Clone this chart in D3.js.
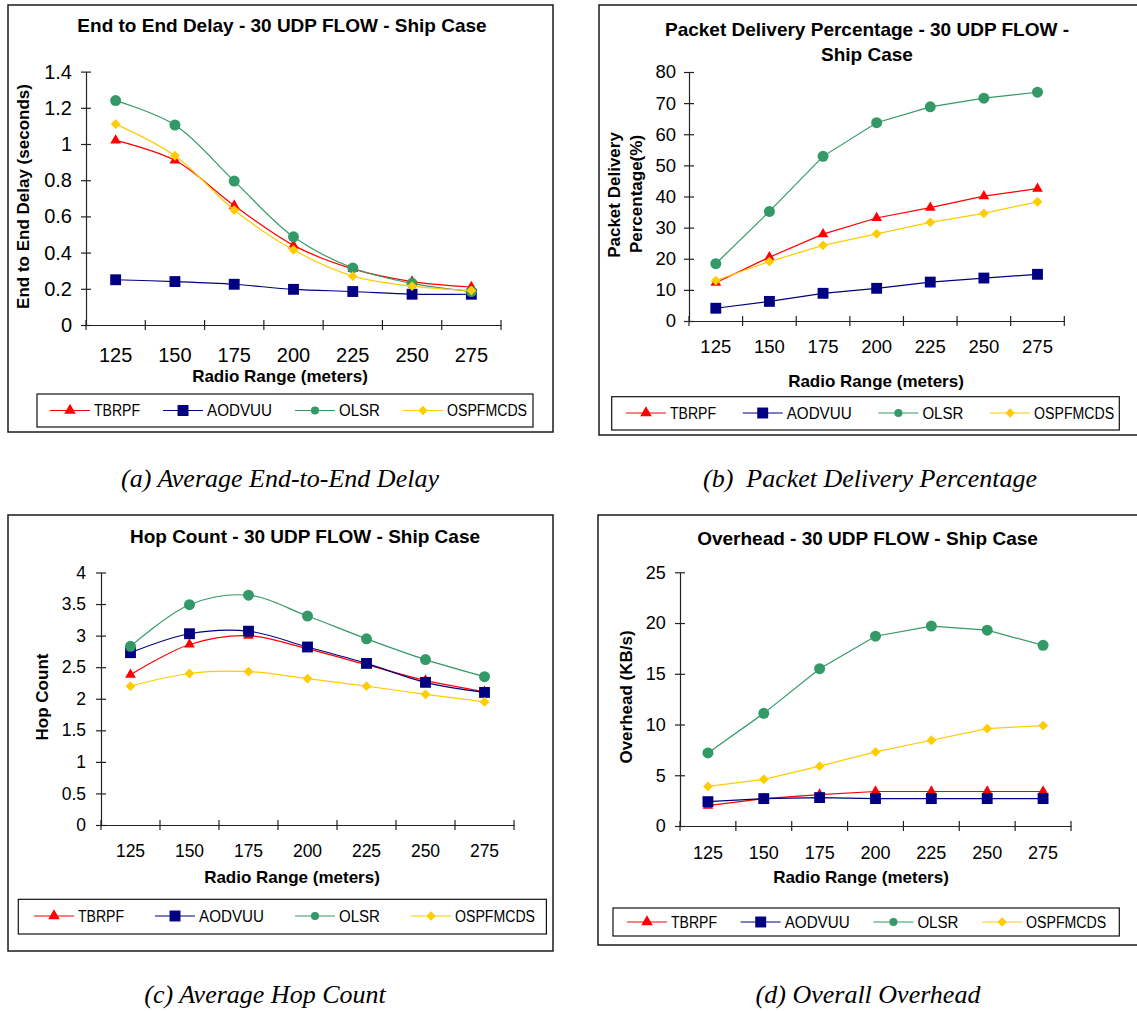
<!DOCTYPE html>
<html>
<head>
<meta charset="utf-8">
<script src="https://cdn.jsdelivr.net/npm/d3@7"></script>
<style>
  body { margin: 0; background: #fff; }
  svg text { font-family: "Liberation Sans", Arial, sans-serif; fill: #000; }
  .caption { font-family: "Liberation Serif", "Times New Roman", serif; font-style: italic; white-space: pre; }
</style>
</head>
<body>
<svg id="fig" width="1137" height="1011"></svg>
<script>
const categories = ["125", "150", "175", "200", "225", "250", "275"]
const protocols = ["TBRPF", "AODVUU", "OLSR", "OSPFMCDS"]

// (a) end to end delay, seconds
const delayTBRPF = [1.02, 0.91, 0.66, 0.44, 0.31, 0.24, 0.21]
const delayAODVUU = [0.25, 0.24, 0.225, 0.197, 0.185, 0.17, 0.17]
const delayOLSR = [1.24, 1.105, 0.795, 0.487, 0.315, 0.23, 0.185]
const delayOSPFMCDS = [1.11, 0.935, 0.635, 0.415, 0.27, 0.215, 0.19]
const delayTicks = [0, 0.2, 0.4, 0.6, 0.8, 1, 1.2, 1.4]

// (b) packet delivery, %
const pdrTBRPF = [12.3, 20.5, 27.9, 33.1, 36.4, 40.1, 42.5]
const pdrAODVUU = [4.1, 6.3, 8.9, 10.5, 12.5, 13.8, 15.0]
const pdrOLSR = [18.4, 35.2, 52.9, 63.7, 68.8, 71.6, 73.5]
const pdrOSPFMCDS = [13.0, 19.1, 24.3, 28.0, 31.7, 34.6, 38.3]
const pdrTicks = [0, 10, 20, 30, 40, 50, 60, 70, 80]

// (c) hop count
const hopTBRPF = [2.38, 2.86, 3.0, 2.79, 2.54, 2.29, 2.11]
const hopAODVUU = [2.73, 3.03, 3.07, 2.82, 2.56, 2.26, 2.1]
const hopOLSR = [2.83, 3.49, 3.64, 3.31, 2.95, 2.62, 2.35]
const hopOSPFMCDS = [2.2, 2.4, 2.43, 2.32, 2.2, 2.07, 1.95]
const hopTicks = [0, 0.5, 1, 1.5, 2, 2.5, 3, 3.5, 4]

// (d) overhead, KB/s
const ohTBRPF = [2.0, 2.7, 3.1, 3.4, 3.4, 3.4, 3.4]
const ohAODVUU = [2.4, 2.7, 2.8, 2.7, 2.7, 2.7, 2.7]
const ohOLSR = [7.2, 11.1, 15.5, 18.7, 19.7, 19.3, 17.8]
const ohOSPFMCDS = [3.9, 4.6, 5.9, 7.3, 8.45, 9.6, 9.9]
const ohTicks = [0, 5, 10, 15, 20, 25]

const captions = [
  "(a) Average End-to-End Delay",
  "(b)  Packet Delivery Percentage",
  "(c) Average Hop Count",
  "(d) Overall Overhead",
]

const colors = ["#ff0000", "#000080", "#339966", "#ffcc00"]
const legendTextWidth = [46, 65, 41, 80]

const symbolRhombus = {
  draw(ctx, size) {
    const r = Math.sqrt(size / 2)
    ctx.moveTo(0, -r); ctx.lineTo(r, 0); ctx.lineTo(0, r); ctx.lineTo(-r, 0); ctx.closePath()
  }
}
const markers = [
  { type: d3.symbolTriangle, size: 50, legend: 58 },
  { type: d3.symbolSquare, size: 118, legend: 120 },
  { type: d3.symbolCircle, size: 95, legend: 52 },
  { type: symbolRhombus, size: 48, legend: 44 },
]

const panels = [
  {
    series: [delayTBRPF, delayAODVUU, delayOLSR, delayOSPFMCDS], yTicks: delayTicks, smooth: true,
    title: [{ t: "End to End Delay - 30 UDP FLOW - Ship Case", x: 282, y: 31.5 }],
    yTitle: [{ t: "End to End Delay (seconds)", x: 23, y: 196.5 }],
    xTitle: { x: 280, y: 381.7 },
    frame: [8, 5, 553, 432], plot: { x0: 86, x1: 501, y0: 325, y1: 71.6 },
    tickFont: 20, yLabelGap: 14, xBase: 36.7,
    legend: { x0: 37, y0: 394, x1: 533, y1: 427, start: 50, gap: 23, cy: 410.5 },
    caption: { x: 280, y: 487 },
  },
  {
    series: [pdrTBRPF, pdrAODVUU, pdrOLSR, pdrOSPFMCDS], yTicks: pdrTicks, smooth: false,
    title: [{ t: "Packet Delivery Percentage - 30 UDP FLOW -", x: 867, y: 36 },
            { t: "Ship Case", x: 867, y: 61 }],
    yTitle: [{ t: "Packet Delivery", x: 613.6, y: 195 }, { t: "Percentage(%)", x: 636, y: 194 }],
    xTitle: { x: 876, y: 386.7 },
    frame: [599, 5, 1140, 435], plot: { x0: 689, x1: 1064.3, y0: 321, y1: 72 },
    tickFont: 18.5, yLabelGap: 13, xBase: 32.3,
    legend: { x0: 611.7, y0: 396.7, x1: 1119.3, y1: 430, start: 626, gap: 26.7, cy: 413 },
    caption: { x: 870, y: 487 },
  },
  {
    series: [hopTBRPF, hopAODVUU, hopOLSR, hopOSPFMCDS], yTicks: hopTicks, smooth: true,
    title: [{ t: "Hop Count - 30 UDP FLOW - Ship Case", x: 305, y: 543.3 }],
    yTitle: [{ t: "Hop Count", x: 42, y: 697 }],
    xTitle: { x: 292, y: 883.3 },
    frame: [8, 515, 553, 951], plot: { x0: 101, x1: 514, y0: 825, y1: 572.5 },
    tickFont: 17.5, yLabelGap: 15, xBase: 32.3,
    legend: { x0: 18.3, y0: 899.3, x1: 546.4, y1: 934, start: 34, gap: 31, cy: 916 },
    caption: { x: 265, y: 1003 },
  },
  {
    series: [ohTBRPF, ohAODVUU, ohOLSR, ohOSPFMCDS], yTicks: ohTicks, smooth: false,
    title: [{ t: "Overhead - 30 UDP FLOW - Ship Case", x: 867.5, y: 545 }],
    yTitle: [{ t: "Overhead (KB/s)", x: 626.5, y: 697 }],
    xTitle: { x: 861, y: 883 },
    frame: [598, 515, 1140, 945], plot: { x0: 680, x1: 1071, y0: 826, y1: 572.3 },
    tickFont: 18, yLabelGap: 14.3, xBase: 33.3,
    legend: { x0: 613, y0: 908, x1: 1119.3, y1: 936, start: 627, gap: 23.7, cy: 922 },
    caption: { x: 868, y: 1003 },
  },
]

const svg = d3.select("#fig")

function drawPanel(p, k) {
  const g = svg.append("g")
  const [fx0, fy0, fx1, fy1] = p.frame
  g.append("rect")
    .attr("x", fx0).attr("y", fy0)
    .attr("width", fx1 - fx0).attr("height", fy1 - fy0)
    .attr("fill", "none").attr("stroke", "#1a1a1a").attr("stroke-width", 1.5)

  const x = d3.scaleBand(categories, [p.plot.x0, p.plot.x1])
  const xIdx = d3.scaleLinear([0, categories.length], [p.plot.x0, p.plot.x1])
  const y = d3.scaleLinear([0, d3.max(p.yTicks)], [p.plot.y0, p.plot.y1])

  // titles
  p.title.forEach((d) => {
    g.append("text").attr("x", d.x).attr("y", d.y)
      .attr("text-anchor", "middle").attr("font-weight", "bold").attr("font-size", 19)
      .text(d.t)
  })
  p.yTitle.forEach((d) => {
    g.append("text")
      .attr("transform", `translate(${d.x},${d.y}) rotate(-90)`)
      .attr("dy", "0.35em").attr("text-anchor", "middle")
      .attr("font-weight", "bold").attr("font-size", 17)
      .text(d.t)
  })
  g.append("text").attr("x", p.xTitle.x).attr("y", p.xTitle.y)
    .attr("text-anchor", "middle").attr("font-weight", "bold").attr("font-size", 17)
    .text("Radio Range (meters)")

  // y axis, ticks crossing the axis line
  const yAxis = g.append("g")
    .attr("transform", `translate(${p.plot.x0},0)`)
    .call(d3.axisLeft(y).tickValues(p.yTicks).tickFormat((d) => String(d))
      .tickSizeInner(5).tickSizeOuter(0).tickPadding(p.yLabelGap - 5))
  yAxis.selectAll(".tick line").attr("x1", 5)
  yAxis.selectAll("text").attr("font-size", p.tickFont).attr("font-family", null)
  yAxis.selectAll("path, line").attr("stroke", "#222").attr("stroke-width", 1.2)

  // x axis: labels in band centres, marks on band edges
  const xAxis = g.append("g")
    .attr("transform", `translate(0,${p.plot.y0})`)
    .call(d3.axisBottom(x).tickSize(0).tickPadding(p.xBase - 0.71 * p.tickFont))
  xAxis.selectAll("text").attr("font-size", p.tickFont).attr("font-family", null)
  xAxis.select(".domain").attr("stroke", "#222").attr("stroke-width", 1.2)
  xAxis.selectAll("line.mark")
    .data(d3.range(categories.length + 1))
    .join("line")
    .attr("class", "mark")
    .attr("x1", (i) => xIdx(i)).attr("x2", (i) => xIdx(i))
    .attr("y1", -5).attr("y2", 5)
    .attr("stroke", "#222").attr("stroke-width", 1.2)

  // series
  const line = d3.line()
    .x((_d, i) => x(categories[i]) + x.bandwidth() / 2)
    .y((d) => y(d))
    .curve(p.smooth ? d3.curveCatmullRom.alpha(0.5) : d3.curveLinear)
  p.series.forEach((values, s) => {
    const sg = g.append("g")
    sg.append("path").attr("d", line(values))
      .attr("fill", "none").attr("stroke", colors[s]).attr("stroke-width", 1.2)
    sg.selectAll("path.pt")
      .data(values)
      .join("path")
      .attr("class", "pt")
      .attr("transform", (d, i) => `translate(${x(categories[i]) + x.bandwidth() / 2},${y(d)})`)
      .attr("d", d3.symbol(markers[s].type, markers[s].size))
      .attr("fill", colors[s])
  })

  // legend
  const L = p.legend
  g.append("rect")
    .attr("x", L.x0).attr("y", L.y0)
    .attr("width", L.x1 - L.x0).attr("height", L.y1 - L.y0)
    .attr("fill", "none").attr("stroke", "#111").attr("stroke-width", 1.2)
  let lx = L.start
  protocols.forEach((name, s) => {
    g.append("line")
      .attr("x1", lx).attr("x2", lx + 40).attr("y1", L.cy).attr("y2", L.cy)
      .attr("stroke", colors[s]).attr("stroke-width", 1.2)
    g.append("path")
      .attr("transform", `translate(${lx + 20},${L.cy})`)
      .attr("d", d3.symbol(markers[s].type, markers[s].legend))
      .attr("fill", colors[s])
    g.append("text")
      .attr("x", lx + 44).attr("y", L.cy).attr("dy", "0.36em")
      .attr("font-size", 16)
      .attr("textLength", legendTextWidth[s]).attr("lengthAdjust", "spacingAndGlyphs")
      .text(name)
    lx += 44 + legendTextWidth[s] + L.gap
  })

  // caption under the panel
  svg.append("text")
    .attr("class", "caption")
    .attr("x", p.caption.x).attr("y", p.caption.y)
    .attr("text-anchor", "middle").attr("font-size", 26)
    .text(captions[k])
}

panels.forEach(drawPanel)
</script>
</body>
</html>
